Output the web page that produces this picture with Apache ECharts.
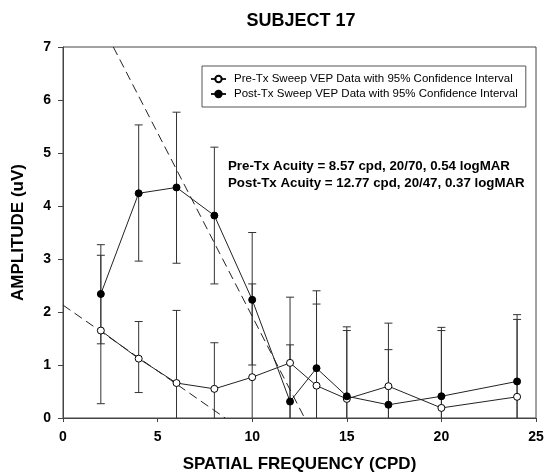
<!DOCTYPE html>
<html><head><meta charset="utf-8">
<script src="https://cdn.jsdelivr.net/npm/echarts@6/dist/echarts.min.js"></script>
<style>html,body{margin:0;padding:0;background:#fff}#c{width:552px;height:476px}</style>
</head><body><div id="c"></div>
<script>
var freqs = [2, 4, 6, 8, 10, 12, 13.4, 15, 17.2, 20, 24];
var preAmp = [1.65, 1.12, 0.66, 0.55, 0.77, 1.04, 0.61, 0.36, 0.60, 0.19, 0.40];
var preUpper = [3.07, 1.82, 2.03, 1.42, 2.53, 2.28, 2.15, 1.65, 1.79, 1.65, 1.86];
var preLower = [0.27, 0.48, -0.71, -0.32, -0.99, -0.20, -0.93, -0.93, -0.59, -1.27, -1.06];
var postAmp = [2.34, 4.24, 4.35, 3.82, 2.23, 0.31, 0.94, 0.41, 0.25, 0.41, 0.69];
var postUpper = [3.27, 5.53, 5.77, 5.11, 3.50, 1.38, 2.40, 1.72, 1.29, 1.71, 1.95];
var postLower = [1.40, 2.96, 2.92, 2.53, 1.00, -0.76, -0.52, -0.90, -0.79, -0.89, -0.57];
var preFit = [[0, 2.13], [8.57, 0]];
var postFit = [[2.66, 7], [12.77, 0]];
var xTicks = [0, 5, 10, 15, 20, 25];
var yTicks = [0, 1, 2, 3, 4, 5, 6, 7];

var FONT = '"Liberation Sans", Arial, sans-serif';
var chart = echarts.init(document.getElementById('c'), null, {renderer: 'canvas'});

function errData(lo, hi) {
  return freqs.map(function (f, i) { return [f, lo[i], hi[i]]; });
}
function errSeries(lo, hi) {
  return {
    type: 'custom', silent: true, clip: true, z: 1,
    data: errData(lo, hi),
    encode: {x: 0, y: [1, 2]},
    renderItem: function (params, api) {
      var x = api.value(0), l = api.value(1), h = api.value(2);
      var pl = api.coord([x, Math.max(l, 0)]);
      var ph = api.coord([x, h]);
      var st = {stroke: '#333', lineWidth: 1};
      var children = [{type: 'line', shape: {x1: pl[0], y1: pl[1], x2: ph[0], y2: ph[1]}, style: st},
        {type: 'line', shape: {x1: ph[0] - 4, y1: ph[1], x2: ph[0] + 4, y2: ph[1]}, style: st}];
      if (l >= 0) children.push({type: 'line', shape: {x1: pl[0] - 4, y1: pl[1], x2: pl[0] + 4, y2: pl[1]}, style: st});
      return {type: 'group', children: children};
    }
  };
}
function zip(a) { return freqs.map(function (f, i) { return [f, a[i]]; }); }

var preName = 'Pre-Tx Sweep VEP Data with 95% Confidence Interval';
var postName = 'Post-Tx Sweep VEP Data with 95% Confidence Interval';

chart.setOption({
  animation: false,
  textStyle: {fontFamily: FONT},
  grid: {left: 63, right: 16, top: 47, bottom: 58, show: true, borderColor: '#444', borderWidth: 1,
    outerBoundsMode: 'none', containLabel: false},
  graphic: [
    {type: 'text', x: 301, y: 21, style: {text: 'SUBJECT 17', fontFamily: FONT, fontWeight: 'bold', fontSize: 18, fill: '#000', align: 'center', verticalAlign: 'middle'}, z: 10},
    {type: 'text', x: 228, y: 158, style: {text: 'Pre-Tx Acuity = 8.57 cpd, 20/70, 0.54 logMAR\nPost-Tx Acuity = 12.77 cpd, 20/47, 0.37 logMAR', fontFamily: FONT, fontWeight: 'bold', fontSize: 13.3, lineHeight: 17, fill: '#000'}, z: 10}
  ],
  legend: {
    data: [preName, postName], orient: 'vertical', left: 202, top: 66,
    borderColor: '#555', borderWidth: 1, padding: [6, 8, 6, 8], itemGap: 1,
    itemWidth: 15, itemHeight: 8,
    textStyle: {fontFamily: FONT, fontSize: 11.5, color: '#000', padding: [0, 0, 0, 3], lineHeight: 14}
  },
  xAxis: {
    type: 'value', min: 0, max: 25, interval: 5,
    name: 'SPATIAL FREQUENCY (CPD)', nameLocation: 'middle', nameGap: 38,
    nameTextStyle: {fontFamily: FONT, fontWeight: 'bold', fontSize: 17, color: '#000'},
    axisLine: {lineStyle: {color: '#444', width: 1}},
    axisTick: {show: true, length: 4, inside: false, lineStyle: {color: '#444'}},
    axisLabel: {fontFamily: FONT, fontWeight: 'bold', fontSize: 14, color: '#000', margin: 12,
      formatter: function (v) { return xTicks.indexOf(v) >= 0 ? String(v) : ''; }},
    splitLine: {show: false}
  },
  yAxis: {
    type: 'value', min: 0, max: 7, interval: 1,
    name: 'AMPLITUDE (uV)', nameLocation: 'middle', nameGap: 36,
    nameTextStyle: {fontFamily: FONT, fontWeight: 'bold', fontSize: 17, color: '#000'},
    axisLine: {show: true, lineStyle: {color: '#444', width: 1}},
    axisTick: {show: true, length: 5, inside: false, lineStyle: {color: '#444'}},
    axisLabel: {fontFamily: FONT, fontWeight: 'bold', fontSize: 14, color: '#000', margin: 12,
      formatter: function (v) { return yTicks.indexOf(v) >= 0 ? String(v) : ''; }},
    splitLine: {show: false}
  },
  series: [
    errSeries(preLower, preUpper),
    errSeries(postLower, postUpper),
    {type: 'line', data: preFit, symbol: 'none', silent: true, z: 2,
      lineStyle: {color: '#222', width: 1, type: [9, 5]}},
    {type: 'line', data: postFit, symbol: 'none', silent: true, z: 2,
      lineStyle: {color: '#222', width: 1, type: [9, 5]}},
    {name: preName, type: 'line', data: zip(preAmp), symbol: 'circle', symbolSize: 7, z: 4,
      lineStyle: {color: '#222', width: 1}, itemStyle: {color: '#fff', borderColor: '#000', borderWidth: 1}},
    {name: postName, type: 'line', data: zip(postAmp), symbol: 'circle', symbolSize: 7, z: 5,
      lineStyle: {color: '#222', width: 1}, itemStyle: {color: '#000', borderColor: '#000', borderWidth: 1}}
  ]
});
</script></body></html>
